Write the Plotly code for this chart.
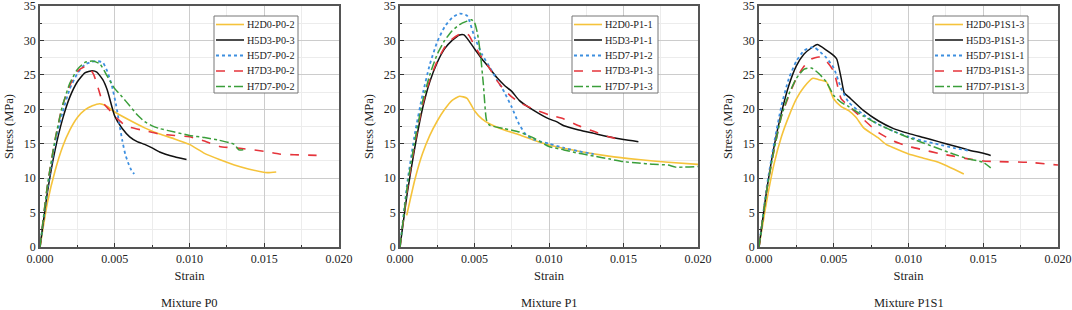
import plotly.graph_objects as go

# ---------------- data ----------------
series_names_p0 = ["H2D0-P0-2", "H5D3-P0-3", "H5D7-P0-2", "H7D3-P0-2", "H7D7-P0-2"]
series_names_p1 = ["H2D0-P1-1", "H5D3-P1-1", "H5D7-P1-2", "H7D3-P1-3", "H7D7-P1-3"]
series_names_p1s1 = ["H2D0-P1S1-3", "H5D3-P1S1-3", "H5D7-P1S1-1", "H7D3-P1S1-3", "H7D7-P1S1-3"]
panel_titles = ["Mixture P0", "Mixture P1", "Mixture P1S1"]

# Mixture P0
p0_h2d0_x = [0, 0.0005, 0.001, 0.0015, 0.002, 0.0025, 0.003, 0.0035, 0.004, 0.0045, 0.005, 0.006, 0.007, 0.008, 0.009, 0.010, 0.011, 0.012, 0.013, 0.014, 0.0152, 0.0158]
p0_h2d0_y = [0, 6.5, 11.0, 14.5, 17.0, 18.8, 19.9, 20.5, 20.8, 20.4, 19.6, 18.4, 17.3, 16.4, 15.7, 14.9, 13.6, 12.7, 11.9, 11.3, 10.8, 10.9]
p0_h5d3_x = [0, 0.0005, 0.001, 0.0015, 0.002, 0.0025, 0.003, 0.0035, 0.0038, 0.0042, 0.0045, 0.005, 0.0055, 0.006, 0.0065, 0.007, 0.0075, 0.008, 0.009, 0.0098]
p0_h5d3_y = [0, 8.0, 14.0, 18.5, 21.8, 24.0, 25.3, 25.6, 25.4, 24.3, 22.8, 19.0, 17.2, 16.0, 15.3, 14.9, 14.4, 13.8, 13.1, 12.7]
p0_h5d7_x = [0, 0.0005, 0.001, 0.0015, 0.002, 0.0025, 0.003, 0.0035, 0.0038, 0.0042, 0.0045, 0.0048, 0.0051, 0.0053, 0.0055, 0.0057, 0.0059, 0.0061, 0.0063]
p0_h5d7_y = [0, 8.5, 15.0, 19.5, 23.0, 25.2, 26.5, 26.9, 27.0, 26.8, 25.5, 23.5, 20.5, 18.0, 15.5, 13.5, 12.2, 11.2, 10.6]
p0_h7d3_x = [0, 0.0005, 0.001, 0.0015, 0.002, 0.0025, 0.003, 0.0033, 0.0036, 0.0039, 0.0042, 0.0046, 0.005, 0.0055, 0.006, 0.007, 0.008, 0.009, 0.010, 0.011, 0.012, 0.0135, 0.015, 0.016, 0.017, 0.0185]
p0_h7d3_y = [0, 9.0, 15.5, 20.5, 23.5, 25.5, 26.2, 26.0, 25.0, 23.0, 21.0, 20.0, 19.0, 18.0, 17.4, 16.9, 16.4, 16.2, 16.0, 15.4, 14.6, 14.3, 13.9, 13.5, 13.4, 13.3]
p0_h7d7_x = [0, 0.0005, 0.001, 0.0015, 0.002, 0.0025, 0.003, 0.0035, 0.004, 0.0045, 0.005, 0.0055, 0.006, 0.0065, 0.007, 0.0075, 0.008, 0.009, 0.010, 0.011, 0.012, 0.013, 0.0133, 0.0138]
p0_h7d7_y = [0, 9.0, 15.5, 20.5, 23.8, 25.8, 26.8, 27.0, 26.6, 24.8, 23.0, 21.8, 20.5, 19.2, 18.2, 17.6, 17.2, 16.7, 16.2, 15.9, 15.5, 14.9, 14.1, 14.2]

# Mixture P1
p1_h2d0_x = [0.00045, 0.001, 0.0015, 0.002, 0.0025, 0.003, 0.0035, 0.004, 0.0045, 0.005, 0.0055, 0.006, 0.007, 0.008, 0.009, 0.010, 0.012, 0.014, 0.016, 0.018, 0.020]
p1_h2d0_y = [4.6, 9.8, 13.5, 16.2, 18.3, 20.0, 21.3, 21.9, 21.6, 19.8, 18.6, 17.9, 17.0, 16.3, 15.5, 14.8, 13.9, 13.2, 12.7, 12.3, 12.0]
p1_h5d3_x = [0, 0.0005, 0.001, 0.0015, 0.002, 0.0025, 0.003, 0.0035, 0.004, 0.0043, 0.005, 0.0055, 0.006, 0.0065, 0.007, 0.0075, 0.008, 0.009, 0.010, 0.0105, 0.011, 0.012, 0.013, 0.014, 0.015, 0.016]
p1_h5d3_y = [0, 8.0, 14.5, 20.0, 24.0, 26.8, 28.8, 30.0, 30.8, 30.8, 28.8, 27.3, 26.0, 24.6, 23.5, 22.6, 21.3, 19.8, 18.6, 18.2, 17.6, 17.0, 16.5, 16.0, 15.6, 15.3]
p1_h5d7_x = [0, 0.0005, 0.001, 0.0015, 0.002, 0.0025, 0.003, 0.0035, 0.004, 0.0045, 0.005, 0.0055, 0.006, 0.0065, 0.007, 0.0075, 0.008, 0.0085, 0.009, 0.010, 0.011, 0.012, 0.013]
p1_h5d7_y = [0, 9.5, 16.5, 22.0, 26.5, 29.8, 32.0, 33.3, 33.9, 33.6, 30.5, 28.0, 26.2, 24.3, 22.5, 20.3, 17.8, 16.2, 15.6, 15.0, 14.4, 13.9, 13.5]
p1_h7d3_x = [0, 0.0005, 0.001, 0.0015, 0.002, 0.0025, 0.003, 0.0035, 0.004, 0.0042, 0.0046, 0.005, 0.0055, 0.006, 0.0065, 0.007, 0.0075, 0.008, 0.009, 0.010, 0.011, 0.012, 0.013, 0.014, 0.015]
p1_h7d3_y = [0, 8.5, 15.0, 20.5, 24.3, 27.0, 29.0, 30.2, 30.9, 30.9, 30.8, 29.2, 27.5, 26.0, 24.2, 22.8, 21.8, 21.0, 20.0, 19.2, 18.6, 17.6, 16.8, 16.0, 15.5]
p1_h7d7_x = [0, 0.0005, 0.001, 0.0015, 0.002, 0.0025, 0.003, 0.0035, 0.004, 0.0045, 0.0048, 0.005, 0.0052, 0.0054, 0.0056, 0.0058, 0.006, 0.007, 0.008, 0.009, 0.010, 0.011, 0.012, 0.013, 0.014, 0.015, 0.016, 0.017, 0.018, 0.0185, 0.020]
p1_h7d7_y = [0, 9.0, 15.5, 21.0, 25.0, 28.0, 30.0, 31.4, 32.3, 32.8, 33.0, 32.6, 31.0, 28.0, 23.5, 18.5, 17.7, 17.2, 16.7, 15.8, 14.6, 14.1, 13.6, 13.2, 12.8, 12.4, 12.2, 12.0, 11.9, 11.6, 11.7]

# Mixture P1S1
p1s1_h2d0_x = [0, 0.0005, 0.001, 0.0015, 0.002, 0.0025, 0.003, 0.0036, 0.004, 0.0045, 0.005, 0.0055, 0.006, 0.0065, 0.007, 0.008, 0.0085, 0.009, 0.010, 0.011, 0.012, 0.0137]
p1s1_h2d0_y = [0, 6.5, 12.0, 16.0, 19.0, 21.5, 23.2, 24.5, 24.3, 24.0, 21.5, 20.4, 19.8, 18.8, 17.3, 15.8, 14.9, 14.4, 13.5, 12.9, 12.3, 10.6]
p1s1_h5d3_x = [0, 0.0005, 0.001, 0.0015, 0.002, 0.0025, 0.003, 0.0035, 0.0039, 0.0045, 0.005, 0.0052, 0.0055, 0.0057, 0.006, 0.007, 0.008, 0.009, 0.010, 0.011, 0.012, 0.013, 0.014, 0.015, 0.0155]
p1s1_h5d3_y = [0, 8.0, 14.5, 19.5, 23.5, 26.3, 28.0, 28.9, 29.4, 28.6, 27.8, 27.3, 24.5, 22.4, 21.8, 19.8, 18.3, 17.2, 16.5, 15.9, 15.3, 14.7, 14.1, 13.6, 13.3]
p1s1_h5d7_x = [0, 0.0005, 0.001, 0.0015, 0.002, 0.0025, 0.003, 0.0035, 0.0037, 0.004, 0.0045, 0.005, 0.0055, 0.006, 0.007, 0.008, 0.009, 0.010, 0.011, 0.012, 0.013, 0.014]
p1s1_h5d7_y = [0, 8.5, 15.0, 20.5, 24.5, 27.0, 28.5, 29.0, 29.0, 28.5, 27.5, 26.0, 23.0, 21.0, 19.2, 17.8, 16.8, 16.0, 15.4, 14.9, 14.4, 14.0]
p1s1_h7d3_x = [0, 0.0005, 0.001, 0.0015, 0.002, 0.0025, 0.003, 0.0035, 0.004, 0.0045, 0.005, 0.0055, 0.006, 0.007, 0.008, 0.009, 0.010, 0.011, 0.012, 0.013, 0.014, 0.015, 0.016, 0.018, 0.020]
p1s1_h7d3_y = [0, 8.0, 14.0, 19.0, 22.0, 24.5, 26.2, 27.3, 27.6, 27.0, 25.5, 21.5, 20.5, 18.5, 16.6, 15.4, 14.6, 14.1, 13.6, 13.2, 12.8, 12.5, 12.4, 12.3, 11.9]
p1s1_h7d7_x = [0, 0.0005, 0.001, 0.0015, 0.002, 0.0025, 0.003, 0.0035, 0.004, 0.0045, 0.005, 0.0055, 0.006, 0.007, 0.008, 0.009, 0.010, 0.011, 0.012, 0.013, 0.014, 0.015, 0.0155]
p1s1_h7d7_y = [0, 8.0, 14.0, 19.0, 22.2, 24.5, 25.8, 26.0, 25.2, 24.0, 22.0, 21.0, 20.4, 19.0, 17.8, 16.8, 15.9, 15.1, 14.3, 13.5, 12.8, 12.3, 11.5]

x_tick_vals = [0, 0.005, 0.010, 0.015, 0.020]
x_tick_text = ["0.000", "0.005", "0.010", "0.015", "0.020"]
y_tick_vals = [0, 5, 10, 15, 20, 25, 30, 35]

# ---------------- styles ----------------
styles = [
    dict(color="#F5C33B", width=1.6, dash="solid"),
    dict(color="#111111", width=1.5, dash="solid"),
    dict(color="#3D8FE0", width=1.8, dash="dot"),
    dict(color="#E5343B", width=1.6, dash="dash"),
    dict(color="#3A9E3A", width=1.5, dash="dashdot"),
]

panels = [
    (series_names_p0, [(p0_h2d0_x, p0_h2d0_y), (p0_h5d3_x, p0_h5d3_y), (p0_h5d7_x, p0_h5d7_y), (p0_h7d3_x, p0_h7d3_y), (p0_h7d7_x, p0_h7d7_y)]),
    (series_names_p1, [(p1_h2d0_x, p1_h2d0_y), (p1_h5d3_x, p1_h5d3_y), (p1_h5d7_x, p1_h5d7_y), (p1_h7d3_x, p1_h7d3_y), (p1_h7d7_x, p1_h7d7_y)]),
    (series_names_p1s1, [(p1s1_h2d0_x, p1s1_h2d0_y), (p1s1_h5d3_x, p1s1_h5d3_y), (p1s1_h5d7_x, p1s1_h5d7_y), (p1s1_h7d3_x, p1s1_h7d3_y), (p1s1_h7d7_x, p1s1_h7d7_y)]),
]

W, H = 1072, 310
x_domains_px = [(40, 339), (400, 698), (759, 1058)]
y_domain = [1 - 247 / H, 1 - 6 / H]
legend_box_px = [(214, 298), (572, 658), (933, 1028)]
legend_top, legend_bottom = 16, 93
legend_row0, legend_row_gap = 24.5, 15.5

FONT = "Times New Roman, Liberation Serif, DejaVu Serif, serif"


def px(xp):
    return xp / W


def py(yp):
    return 1 - yp / H


fig = go.Figure()
shapes, annotations = [], []

for i, (names, data) in enumerate(panels):
    ax = "" if i == 0 else str(i + 1)
    for name, (xs, ys), st in zip(names, data, styles):
        fig.add_trace(go.Scatter(
            x=xs, y=ys, mode="lines", name=name, showlegend=False,
            line=dict(color=st["color"], width=st["width"], dash=st["dash"], shape="spline", smoothing=0.5),
            xaxis="x" + ax, yaxis="y" + ax,
        ))
    x0, x1 = x_domains_px[i]
    common = dict(
        showline=True, linecolor="#555", linewidth=1.5, mirror=True,
        ticks="inside", ticklen=4, tickcolor="#333", tickwidth=1,
        showgrid=True, gridcolor="#cccccc", gridwidth=1,
        zeroline=False, automargin=False, ticklabeloverflow="allow",
        tickfont=dict(family=FONT, size=12, color="#222"),
    )
    fig.update_layout(**{
        "xaxis" + ax: dict(
            common, domain=[px(x0), px(x1)], range=[0, 0.02], anchor="y" + ax,
            tickvals=x_tick_vals, ticktext=x_tick_text, ticklabelstandoff=0,
            minor=dict(dtick=0.0025, ticks="inside", ticklen=2, tickcolor="#333", showgrid=True, gridcolor="#ececec"),
            title=dict(text="Strain", font=dict(family=FONT, size=12.5, color="#222"), standoff=6),
        ),
        "yaxis" + ax: dict(
            common, domain=y_domain, range=[0, 35.0001], anchor="x" + ax,
            tickvals=y_tick_vals,
            minor=dict(dtick=2.5, ticks="inside", ticklen=2, tickcolor="#333", showgrid=True, gridcolor="#ececec"),
            title=dict(text="Stress (MPa)", font=dict(family=FONT, size=12.5, color="#222"), standoff=7),
        ),
    })

    # legend drawn as a boxed key in paper coordinates
    bl, br = legend_box_px[i]
    shapes.append(dict(type="rect", xref="paper", yref="paper",
                       x0=px(bl), x1=px(br), y0=py(legend_bottom), y1=py(legend_top),
                       line=dict(color="#777", width=1), fillcolor="white", layer="above"))
    for k, (name, st) in enumerate(zip(names, styles)):
        yr = legend_row0 + k * legend_row_gap
        shapes.append(dict(type="line", xref="paper", yref="paper",
                           x0=px(bl + 2), x1=px(bl + 30), y0=py(yr), y1=py(yr),
                           line=dict(color=st["color"], width=st["width"], dash=st["dash"]), layer="above"))
        annotations.append(dict(text=name, xref="paper", yref="paper", x=px(bl + 31), y=py(yr),
                                xanchor="left", yanchor="middle", showarrow=False,
                                font=dict(family=FONT, size=10.2, color="#222")))

    annotations.append(dict(
        text=panel_titles[i], x=px((x0 + x1) / 2), y=py(303), xref="paper", yref="paper",
        xanchor="center", yanchor="middle", showarrow=False,
        font=dict(family=FONT, size=12.5, color="#222"),
    ))

fig.update_layout(
    width=W, height=H,
    margin=dict(l=0, r=0, t=0, b=0),
    paper_bgcolor="white", plot_bgcolor="white",
    font=dict(family=FONT, size=11, color="#222"),
    showlegend=False,
    shapes=shapes, annotations=annotations,
)
fig.write_html(
    "out.html",
    config={"displayModeBar": False},
    post_script="document.body.style.margin='0';document.body.style.overflow='hidden';",
)
